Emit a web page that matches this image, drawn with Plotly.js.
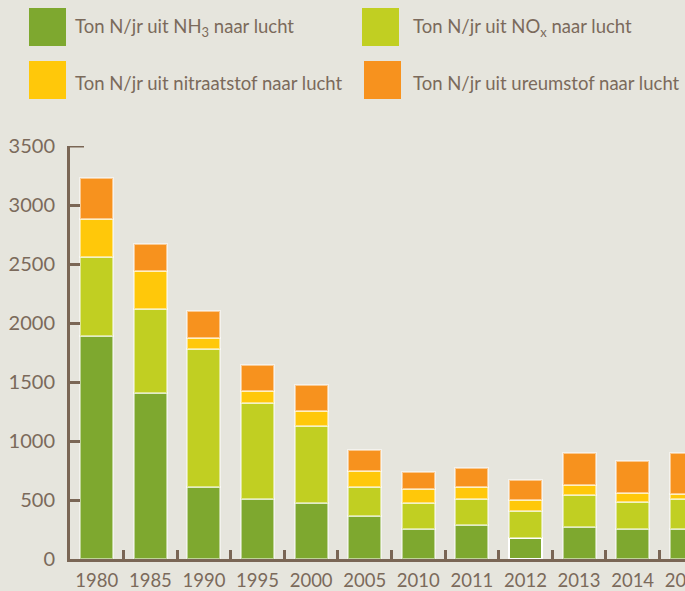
<!DOCTYPE html>
<html>
<head>
<meta charset="utf-8">
<script src="https://cdn.plot.ly/plotly-3.0.1.min.js"></script>
<style>
  html, body { margin: 0; padding: 0; background: #e6e5dd; overflow: hidden; }
  #chart { width: 730px; height: 591px; }
</style>
</head>
<body>
<div id="chart"></div>
<script>
// ---- data ----
const years = ['1980','1985','1990','1995','2000','2005','2010','2011','2012','2013','2014','2015'];
const nh3      = [1890, 1405,  610,  510,  475,  365,  255,  290,  180,  275,  255,  255];
const nox      = [ 670,  715, 1170,  810,  655,  245,  220,  215,  225,  270,  230,  255];
const nitraat  = [ 320,  320,   90,  100,  125,  135,  115,  105,   95,   85,   75,   45];
const ureum    = [ 350,  230,  230,  220,  220,  180,  150,  160,  170,  270,  270,  340];
const seriesNames = [
  'Ton N/jr uit NH<sub>3</sub> naar lucht',
  'Ton N/jr uit NO<sub>x</sub> naar lucht',
  'Ton N/jr uit nitraatstof naar lucht',
  'Ton N/jr uit ureumstof naar lucht'
];
const yTicks = [0, 500, 1000, 1500, 2000, 2500, 3000, 3500];

// ---- styling ----
const colors = ['#7ea82f', '#c1cf22', '#ffc80a', '#f7921e'];
const axisColor = '#7a6655';
const textColor = '#7b6a5b';
const bg = '#e6e5dd';
const fontFamily = 'Lato, "Open Sans", sans-serif';

const W = 730, H = 591, ML = 70, MR = 17, MT = 146, MB = 32;
const PW = W - ML - MR, PH = H - MT - MB;
const px = x => (x - ML) / PW;
const py = y => (H - MB - y) / PH;

const outline = 'rgba(255,255,255,0.5)';
const nh3Lines = years.map(y => y === '2012' ? '#ffffff' : outline);

const allSeries = [nh3, nox, nitraat, ureum];
const traces = allSeries.map((vals, i) => ({
  type: 'bar',
  x: years,
  y: vals,
  name: seriesNames[i],
  showlegend: false,
  hoverinfo: 'x+y',
  marker: {
    color: colors[i],
    line: { color: i === 0 ? nh3Lines : outline, width: 2 }
  }
}));

// custom legend (large swatches)
const legendItems = [
  { sx0: 29, sx1: 66, sy0: 8, sy1: 46, tx: 73, ty: 27 },
  { sx0: 362, sx1: 399, sy0: 8, sy1: 46, tx: 411, ty: 27 },
  { sx0: 29, sx1: 66, sy0: 61, sy1: 99, tx: 73, ty: 83 },
  { sx0: 364, sx1: 401, sy0: 61, sy1: 99, tx: 411, ty: 83 }
];
const shapes = legendItems.map((it, i) => ({
  type: 'rect', xref: 'paper', yref: 'paper',
  x0: px(it.sx0), x1: px(it.sx1), y0: py(it.sy1), y1: py(it.sy0),
  fillcolor: colors[i], line: { width: 0 }
}));
// top cap on y-axis
shapes.push({
  type: 'line', xref: 'paper', yref: 'y',
  x0: 0, x1: px(84), y0: 3500, y1: 3500,
  line: { color: axisColor, width: 3 }
});
const annotations = legendItems.map((it, i) => ({
  xref: 'paper', yref: 'paper',
  x: px(it.tx), y: py(it.ty),
  xanchor: 'left', yanchor: 'middle',
  text: seriesNames[i], showarrow: false,
  font: { family: fontFamily, size: 18.5, color: textColor }
}));

const layout = {
  width: W, height: H,
  margin: { l: ML, r: MR, t: MT, b: MB, pad: 0 },
  paper_bgcolor: bg, plot_bgcolor: bg,
  barmode: 'stack',
  bargap: 0.384,
  font: { family: fontFamily, color: textColor },
  xaxis: {
    type: 'category',
    range: [-0.5, 11.5],
    automargin: false,
    tickangle: 0,
    showline: true, linecolor: axisColor, linewidth: 3,
    ticks: 'inside', tickson: 'boundaries', ticklen: 9, tickwidth: 3, tickcolor: axisColor,
    showgrid: false, zeroline: false,
    tickfont: { family: fontFamily, size: 18.5, color: textColor },
    ticklabelstandoff: 3,
    fixedrange: true
  },
  yaxis: {
    range: [0, 3500],
    automargin: false,
    tickvals: yTicks,
    ticktext: yTicks.map(String),
    showline: true, linecolor: axisColor, linewidth: 3,
    ticks: 'inside', ticklen: 10, tickwidth: 3, tickcolor: axisColor,
    showgrid: false, zeroline: false,
    tickfont: { family: fontFamily, size: 20, color: textColor },
    ticklabelstandoff: 8,
    fixedrange: true
  },
  shapes: shapes,
  annotations: annotations
};

Plotly.newPlot('chart', traces, layout, { displayModeBar: false });
</script>
</body>
</html>
